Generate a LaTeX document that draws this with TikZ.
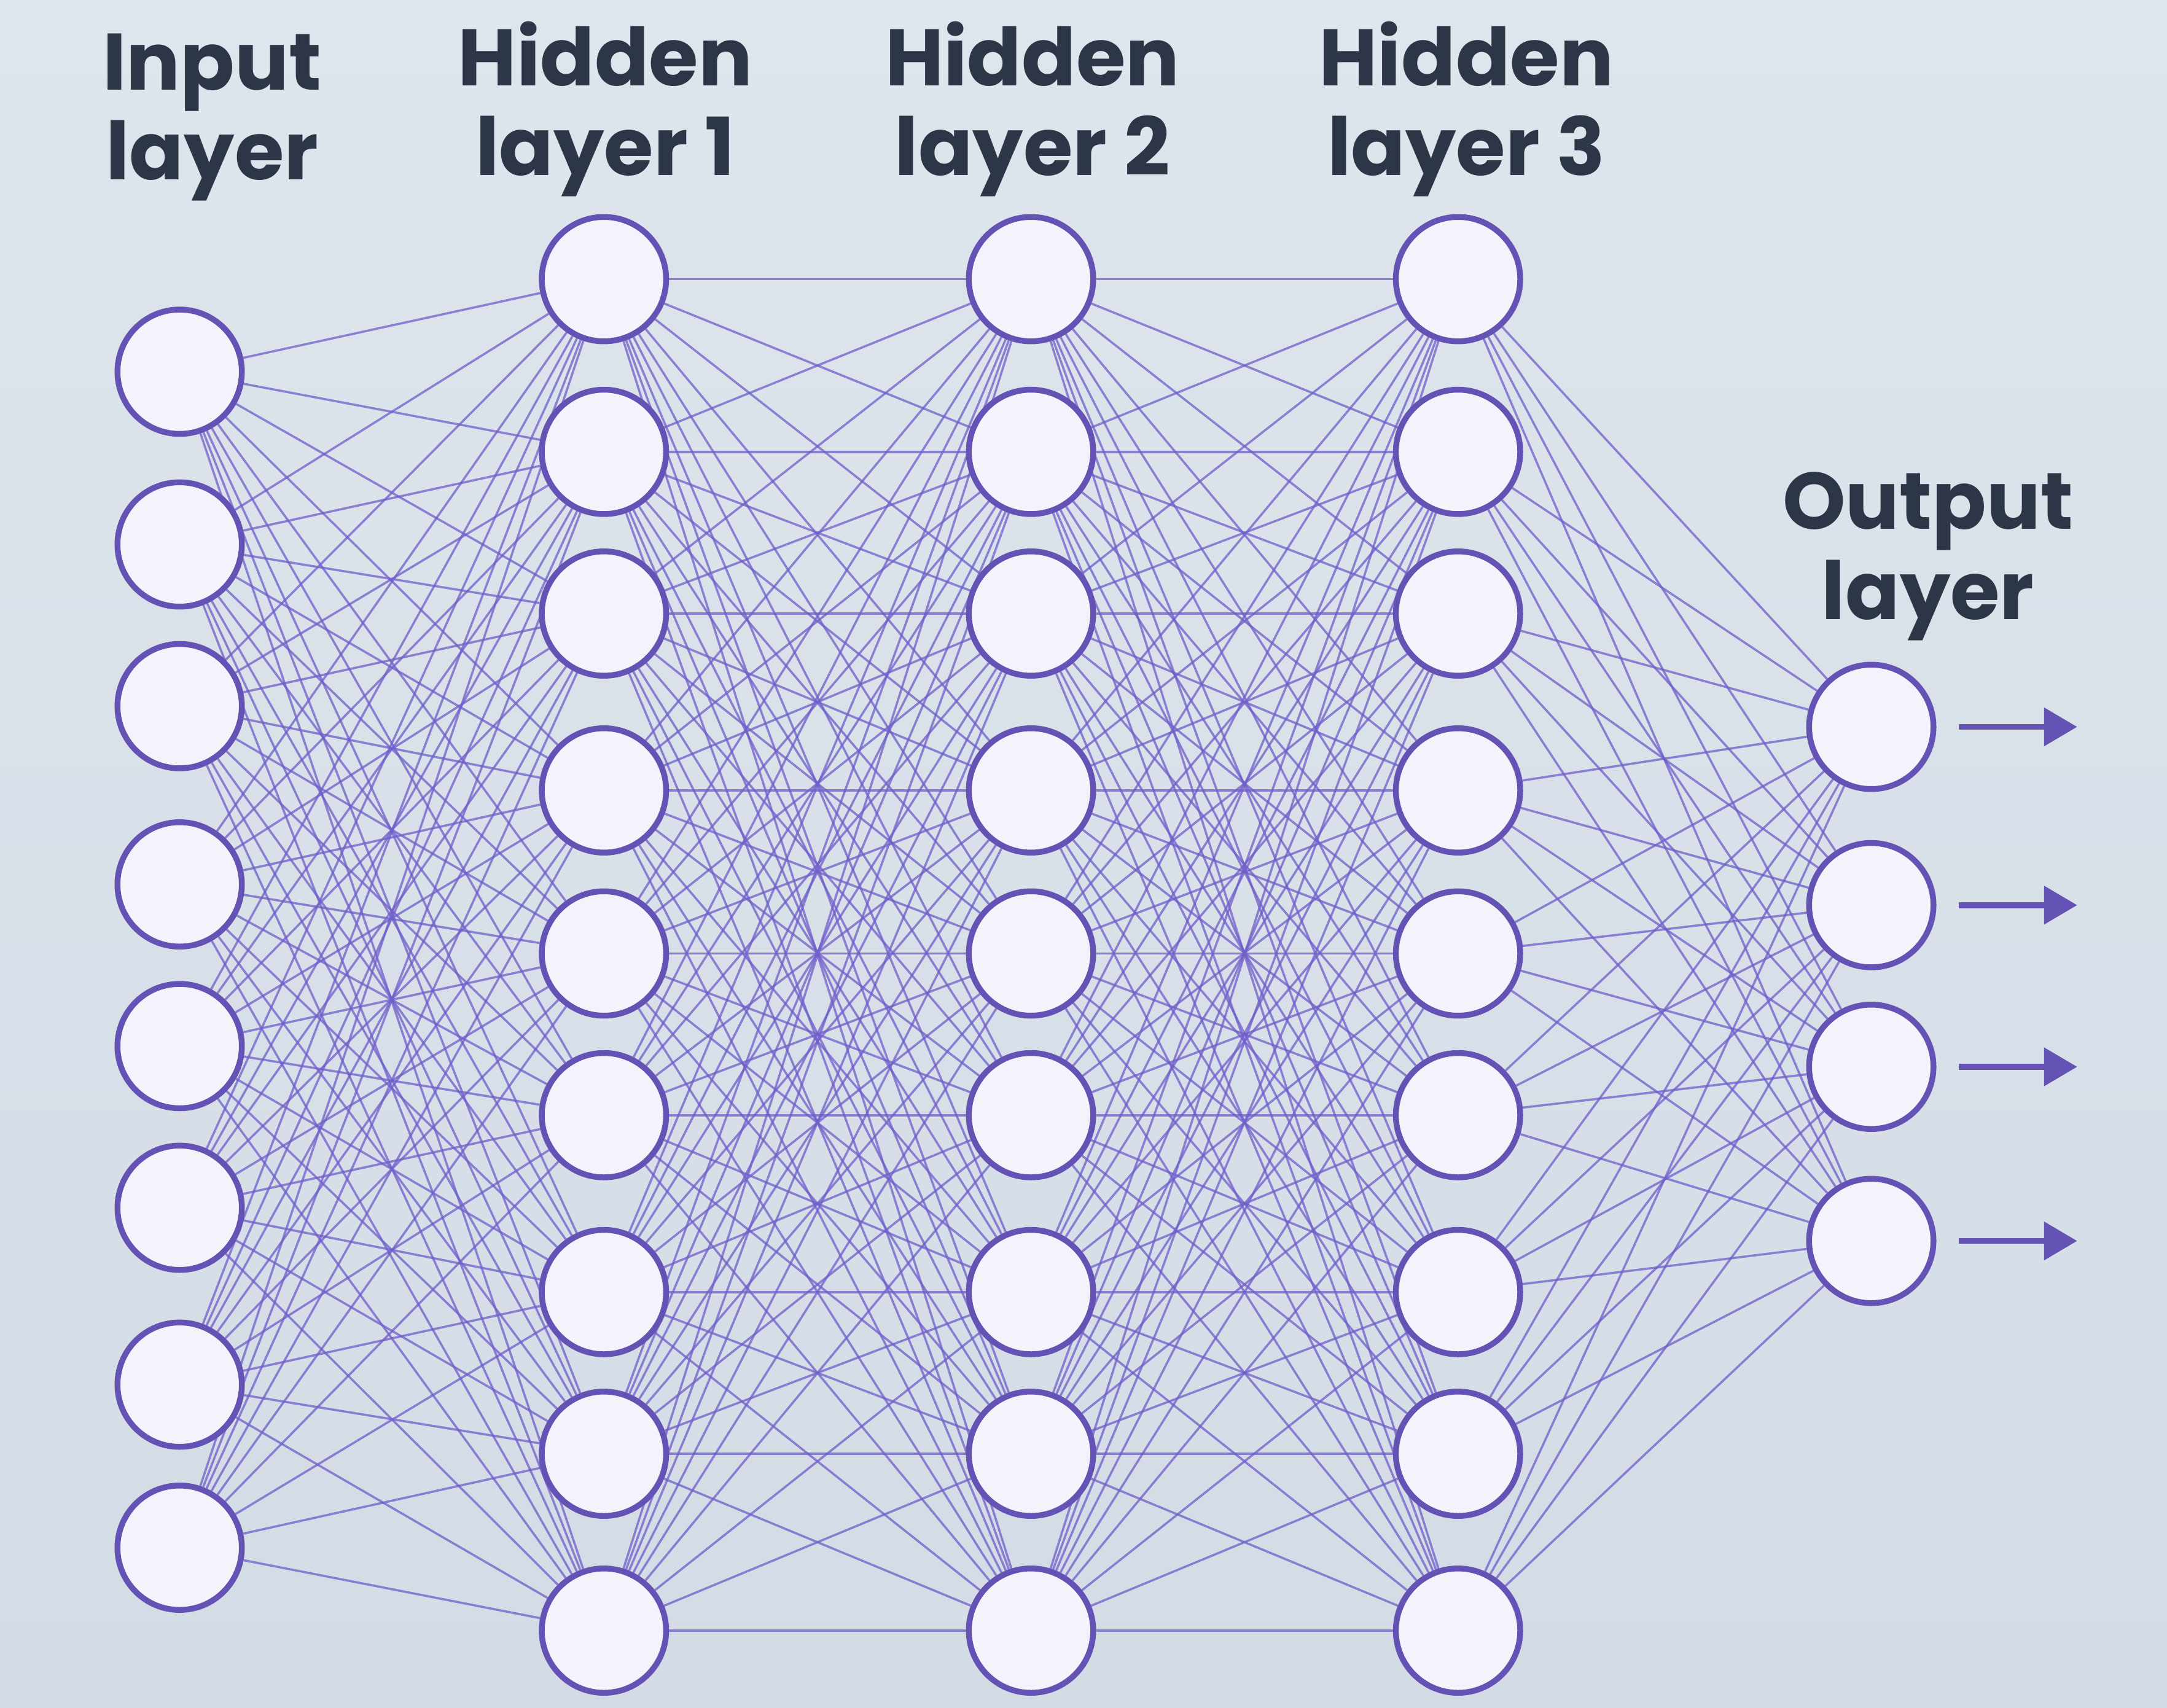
\documentclass[tikz,border=0pt]{standalone}
\usepackage{fontspec}
\setmainfont{Poppins}
\usetikzlibrary{backgrounds,arrows.meta}
\definecolor{bgtop}{RGB}{222,229,236}
\definecolor{bgbot}{RGB}{211,219,229}
\definecolor{nodefill}{RGB}{244,243,252}
\definecolor{nodeline}{RGB}{100,82,180}
\definecolor{linkline}{RGB}{112,94,202}
\definecolor{labeltext}{RGB}{45,54,71}

\begin{document}
\begin{tikzpicture}[neuron/.style={circle,draw=nodeline,line width=1.2pt,fill=nodefill,minimum size=0.9cm,inner sep=0pt},
  link/.style={draw=linkline,line width=0.45pt,opacity=0.75},
  layerlabel/.style={font=\fontsize{16.5}{18.5}\selectfont\bfseries,text=labeltext,align=center,anchor=base,inner sep=0pt},
  outarrow/.style={draw=nodeline,line width=1.2pt,-{Triangle[length=2.4mm,width=2.7mm]}}]
\useasboundingbox (0,0) rectangle (15.68,-12.36);

% neurons
\foreach \y [count=\i] in {2.69,3.94,5.11,6.40,7.57,8.74,10.02,11.20}
  \node[neuron] (in-\i) at (1.30,-\y) {};
\foreach \y [count=\i] in {2.02,3.27,4.44,5.72,6.90,8.07,9.35,10.52,11.80} {
  \node[neuron] (h1-\i) at (4.37,-\y) {};
  \node[neuron] (h2-\i) at (7.46,-\y) {};
  \node[neuron] (h3-\i) at (10.55,-\y) {};
}
\foreach \y [count=\i] in {5.26,6.55,7.72,8.98}
  \node[neuron] (out-\i) at (13.54,-\y) {};

% labels (base = last line)
\node[layerlabel] (lbl-in) at (1.535,-1.30) {Input\\layer};
\node[layerlabel] (lbl-h1) at (4.38,-1.27) {Hidden\\layer 1};
\node[layerlabel] (lbl-h2) at (7.47,-1.27) {Hidden\\layer 2};
\node[layerlabel] (lbl-h3) at (10.61,-1.27) {Hidden\\layer 3};
\node[layerlabel] (lbl-out) at (13.95,-4.48) {Output\\layer};

% outputs
\foreach \i in {1,...,4} {
  \coordinate (tip-\i) at (15.03,0 |- out-\i);
  \draw[outarrow,shorten <=1.6mm] (out-\i) -- (tip-\i);
}

% weights
\begin{scope}[on background layer]
\shade[top color=bgtop,bottom color=bgbot] (0,0) rectangle (15.68,-12.36);
\foreach \a in {1,...,8} \foreach \b in {1,...,9} \draw[link] (in-\a) -- (h1-\b);
\foreach \a in {1,...,9} \foreach \b in {1,...,9} {
  \draw[link] (h1-\a) -- (h2-\b);
  \draw[link] (h2-\a) -- (h3-\b);
}
\foreach \a in {1,...,9} \foreach \b in {1,...,4} \draw[link] (h3-\a) -- (out-\b);
\end{scope}
\end{tikzpicture}
\end{document}
